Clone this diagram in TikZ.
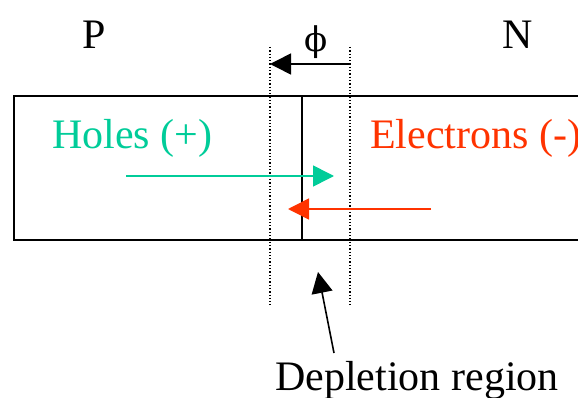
\documentclass[tikz,border=0pt]{standalone}
\usepackage{fontspec}
\setmainfont{Liberation Serif}
\newfontfamily\phifont{DejaVu Serif}
\usetikzlibrary{arrows.meta,positioning}
\definecolor{holegreen}{HTML}{00CC99}
\definecolor{elecred}{HTML}{FF3300}
\tikzset{every node/.append style={align=center}}

\begin{document}
\begin{tikzpicture}[x=1pt,y=-1pt,
  every node/.style={font=\fontsize{42}{48}\selectfont,inner sep=0pt},
  bigtip/.style={-{Triangle[length=21pt,width=21pt]}},
  edgeline/.style={dotted,line width=1.3pt}]
  \clip (0,0) rectangle (578,398);
  % the junction
  \draw[line width=1.6pt] (14,96) rectangle (620,240);
  \draw[line width=1.6pt] (302,96) -- (302,240);
  \draw[edgeline] (270,47) -- (270,305);
  \draw[edgeline] (350,47) -- (350,305);
  \node[anchor=base] (ptype) at (94,49) {P};
  \node[anchor=base] (ntype) at (518,49) {N};
  \node[anchor=center,font=\phifont\fontsize{34}{40}\selectfont] (phi) at (316,42) {ϕ};
  \coordinate (phiR) at (350,64);
  \coordinate (phiL) at (270,64);
  \draw[bigtip,line width=1.6pt] (phiR) -- (phiL);
  % carriers
  \node[anchor=base west,text=holegreen] (holes) at (52,149) {Holes (+)};
  \node[anchor=base west,text=elecred] (elec) at (370,149) {Electrons (-)};
  \coordinate (hstart) at (126,176);
  \coordinate (hend) at (334,176);
  \coordinate (estart) at (431,209);
  \coordinate (eend) at (288,209);
  \draw[bigtip,holegreen,line width=1.6pt] (hstart) -- (hend);
  \draw[bigtip,elecred,line width=1.6pt] (estart) -- (eend);
  % label
  \node[anchor=base] (depl) at (417,390) {Depletion region};
  \coordinate (dbase) at (334,353);
  \coordinate (dtip) at (318,272);
  \draw[bigtip,line width=1.6pt] (dbase) -- (dtip);
\end{tikzpicture}
\end{document}
